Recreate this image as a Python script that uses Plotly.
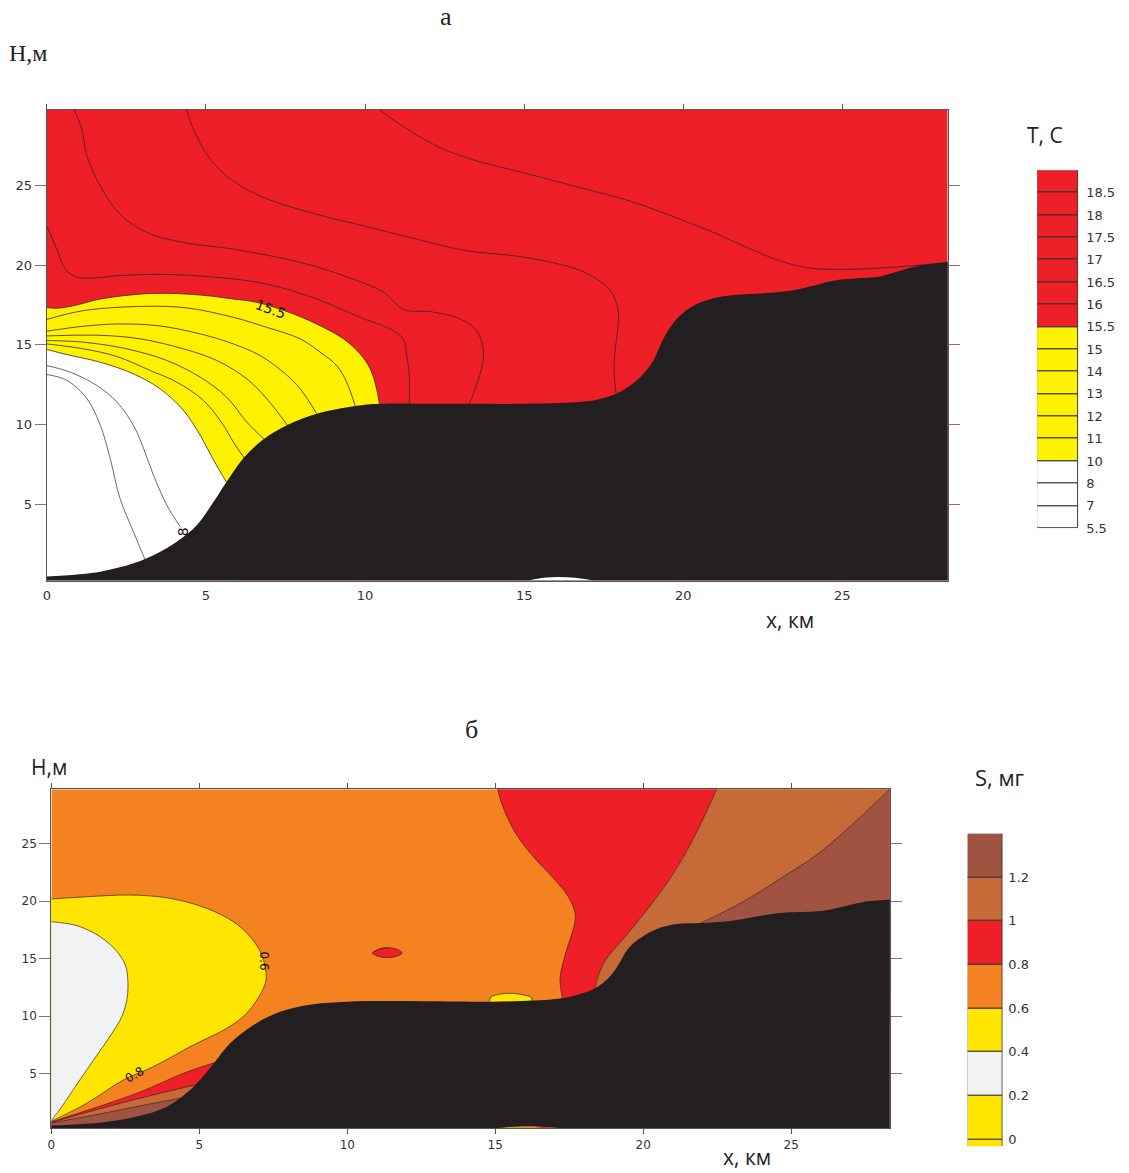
import plotly.graph_objects as go

W, H = 1129, 1173

# ---------- panel a: temperature ----------
A_XMAX, A_YMIN, A_YMAX = 28.31, 0.2, 29.76
A_TERRAIN_X = [0, 1.68, 2.72, 3.46, 4.08, 4.71, 5.24, 5.65, 6.18, 6.81, 7.54, 8.48, 9.69, 10.47, 12.5, 15, 16.65, 17.28, 17.89, 18.33, 18.75, 19.06, 19.32, 19.59, 19.9, 20.32, 20.95, 21.58, 22.52, 23.36, 24.09, 24.72, 25.45, 26.18, 26.92, 27.54, 28.31]
A_TERRAIN_Y = [0.45, 0.76, 1.28, 1.9, 2.64, 3.68, 5.15, 6.4, 7.9, 9.07, 9.95, 10.68, 11.16, 11.3, 11.3, 11.3, 11.39, 11.55, 11.93, 12.45, 13.18, 14.02, 15.17, 16.1, 16.84, 17.46, 17.92, 18.13, 18.24, 18.4, 18.72, 19.03, 19.18, 19.3, 19.72, 20.03, 20.2]
A_NOTCH_X = [15.14, 15.6, 16.1, 16.6, 17.18]
A_NOTCH_Y = [0.2, 0.37, 0.43, 0.37, 0.2]

T155_X = [0, 0.31, 0.84, 1.68, 2.72, 3.56, 4.82, 5.86, 6.6, 7.75, 8.59, 9.32, 9.84, 10.16, 10.35, 10.45]
T155_Y = [17.34, 17.3, 17.46, 17.88, 18.15, 18.24, 18.13, 17.88, 17.67, 16.94, 16.2, 15.38, 14.44, 13.5, 12.35, 11.3]
T10_X = [0, 0.63, 1.68, 2.72, 3.56, 4.29, 4.82, 5.24, 5.65]
T10_Y = [14.71, 14.39, 13.91, 13.18, 12.24, 10.89, 9.32, 7.76, 6.36]
T15_X = [0, 1.15, 3.04, 4.4, 5.86, 6.91, 7.96, 8.59, 9.11, 9.42, 9.69]
T15_Y = [16.6, 17.15, 17.42, 17.32, 16.73, 16.1, 15.38, 14.54, 13.7, 12.66, 11.16]
T14_X = [0, 1.15, 2.2, 3.46, 4.82, 5.86, 6.7, 7.43, 7.96, 8.48]
T14_Y = [15.86, 16.17, 16.31, 16.21, 15.69, 15.06, 14.33, 13.29, 12.24, 10.68]
T13_X = [0, 1.68, 2.93, 4.29, 5.34, 6.28, 6.91, 7.56]
T13_Y = [15.56, 15.6, 15.38, 14.75, 14.02, 12.87, 11.62, 9.95]
T12_X = [0, 1.15, 2.51, 3.77, 4.82, 5.65, 6.28, 6.83]
T12_Y = [15.27, 15.17, 14.75, 14.02, 12.97, 11.72, 10.16, 9.07]
T11_X = [0, 1.15, 2.2, 3.25, 4.08, 4.92, 5.55, 5.86, 6.2]
T11_Y = [15.06, 14.75, 14.27, 13.39, 12.66, 11.51, 9.95, 8.9, 7.9]
T8_X = [0, 0.73, 1.57, 2.2, 2.72, 3.04, 3.35, 3.77, 4.19]
T8_Y = [13.7, 13.29, 12.45, 11.41, 9.95, 8.49, 6.82, 4.94, 3.58]
T7_X = [0, 0.63, 1.26, 1.68, 1.99, 2.3, 2.72, 3.09]
T7_Y = [13.14, 12.77, 11.62, 9.95, 7.86, 5.35, 3.27, 1.49]
T16_X = [0, 0.31, 0.58, 0.89, 1.26, 2.2, 3.56, 5.34, 6.91, 8.48, 9.84, 10.79, 11.2, 11.31, 11.39, 11.39]
T16_Y = [22.47, 21.01, 19.76, 19.3, 19.18, 19.34, 19.43, 19.24, 18.82, 17.88, 16.73, 16.0, 15.38, 14.33, 13.08, 11.3]
T165_X = [0.86, 1.1, 1.26, 1.68, 2.3, 3.14, 4.29, 5.86, 7.96, 9.63, 10.58, 11.23, 12.04, 12.98, 13.51, 13.72, 13.66, 13.46, 13.28]
T165_Y = [29.76, 28.53, 26.86, 24.98, 23.2, 22.06, 21.43, 21.01, 20.18, 19.13, 18.3, 17.21, 17.09, 16.63, 15.9, 14.54, 13.5, 12.24, 11.3]
T17_X = [4.38, 4.61, 5.03, 5.65, 6.7, 8.48, 10.05, 11.62, 13.19, 14.66, 15.71, 16.65, 17.28, 17.75, 17.96, 17.93, 17.84, 17.83, 17.89]
T17_Y = [29.76, 28.53, 26.96, 25.6, 24.35, 23.2, 22.43, 21.64, 20.91, 20.6, 20.24, 19.76, 19.13, 18.3, 17.05, 15.79, 14.33, 13.08, 11.93]
T175_X = [10.45, 11.1, 12.15, 13.19, 15.19, 16.76, 18.33, 19.9, 20.95, 22.0, 23.04, 23.98, 25.14, 26.18, 27.54]
T175_Y = [29.76, 28.84, 27.59, 26.75, 25.7, 24.87, 24.03, 22.89, 22.06, 21.12, 20.28, 19.82, 19.74, 19.82, 20.03]

# ---------- panel b: salinity ----------
B_XMAX, B_YMIN, B_YMAX = 28.33, 0.25, 29.75
B_TERRAIN_X = [0, 1.77, 2.89, 3.79, 4.35, 4.92, 5.53, 6.04, 6.83, 7.73, 8.85, 10, 12.5, 15, 16.29, 17.26, 17.87, 18.37, 18.82, 19.16, 19.5, 19.89, 20.46, 21.13, 21.92, 22.93, 23.83, 24.73, 26.08, 26.98, 27.65, 28.33]
B_TERRAIN_Y = [0.48, 0.77, 1.26, 1.99, 2.86, 4.16, 6.04, 7.64, 9.23, 10.39, 11.03, 11.26, 11.3, 11.26, 11.35, 11.55, 11.93, 12.42, 13.29, 14.45, 15.9, 16.77, 17.58, 18.01, 18.1, 18.28, 18.68, 19.0, 19.17, 19.67, 20.01, 20.16]
B_NOTCH_X = [15.07, 15.5, 16.1, 16.7, 17.2]
B_NOTCH_Y = [0.25, 0.36, 0.42, 0.36, 0.25]
B_NOTCH_YEL_X = [15.3, 15.7, 16.0]
B_NOTCH_YEL_Y = [0.25, 0.36, 0.25]
B_NOTCH_RED_X = [16.3, 16.65, 17.0]
B_NOTCH_RED_Y = [0.25, 0.36, 0.25]
S06_X = [0, 1.2, 2.67, 4.02, 5.25, 6.15, 6.72, 7.11, 7.26, 7.11, 6.6, 5.93, 4.8, 3.45, 2.44, 1.2, 0]
S06_Y = [20.19, 20.39, 20.54, 20.25, 19.38, 18.22, 16.91, 15.32, 13.29, 12.13, 10.25, 8.94, 7.49, 5.61, 4.45, 2.42, 0.85]
S04_X = [0, 0.87, 1.65, 2.22, 2.5, 2.58, 2.56, 2.38, 2.05, 1.43, 0.87, 0.36, 0]
S04_Y = [18.22, 17.87, 16.91, 15.61, 14.45, 13.29, 11.55, 9.96, 8.51, 6.19, 4.1, 2.15, 0.9]
S08W_X = [0, 2.89, 4.47, 5.53]
S08W_Y = [0.8, 3.29, 5.03, 5.96]
S10W_X = [0, 2.33, 3.68, 4.86]
S10W_Y = [0.75, 2.42, 3.29, 4.01]
S12W_X = [0, 1.77, 2.89, 4.35]
S12W_Y = [0.7, 1.55, 2.13, 2.86]
S08_X = [15.08, 15.28, 15.73, 16.29, 16.97, 17.47, 17.7, 17.67, 17.36, 17.19, 17.27]
S08_Y = [29.75, 28.07, 25.75, 23.87, 21.99, 20.39, 18.94, 17.93, 15.32, 13.29, 11.55]
S10_X = [22.48, 21.81, 21.13, 20.34, 19.44, 18.77, 18.49, 18.37]
S10_Y = [29.75, 26.04, 22.86, 19.96, 17.06, 15.03, 13.58, 12.42]
S12_X = [28.33, 26.98, 25.85, 24.73, 23.38, 21.92]
S12_Y = [29.75, 26.48, 24.01, 22.13, 19.96, 18.07]
BLOB_RED_X = [10.85, 11.1, 11.4, 11.7, 11.85, 11.65, 11.35, 11.05]
BLOB_RED_Y = [15.5, 15.85, 15.95, 15.8, 15.5, 15.2, 15.1, 15.2]
BLOB_YEL_X = [14.8, 14.85, 15.2, 15.6, 16.0, 16.24, 16.2]
BLOB_YEL_Y = [11.27, 11.65, 11.93, 11.98, 11.82, 11.6, 11.27]

# ---------- legends and ticks ----------
T_LEVELS = [5.5, 7, 8, 10, 11, 12, 13, 14, 15, 15.5, 16, 16.5, 17, 17.5, 18, 18.5]
T_COLORS = ["#ffffff"] * 3 + ["#fff200"] * 6 + ["#ee1f26"] * 7
S_LEVELS = ["0", "0.2", "0.4", "0.6", "0.8", "1", "1.2"]
S_COLORS = ["#ffe500", "#ffe500", "#f1f2f4", "#ffe500", "#f58220", "#ee1f26", "#c66a38", "#a05340"]
AXIS_TICKS = [0, 5, 10, 15, 20, 25]
Y_TICKS = [5, 10, 15, 20, 25]

RED, YEL, ORANGE, BROWN, DBROWN, GREY, BLACK = "#ee1f26", "#fff200", "#f58220", "#c66a38", "#a05340", "#f1f2f4", "#231f20"
YEL2 = "#ffe500"
LINE = "#3a2526"
SMOOTH = 1.0


def fill(x, y, color, xa, ya, spline=True):
    return go.Scatter(x=x, y=y, mode="lines", fill="toself", fillcolor=color,
                      line=dict(width=0, shape="spline" if spline else "linear", smoothing=SMOOTH, color=color),
                      xaxis=xa, yaxis=ya, hoverinfo="skip", showlegend=False)


def iso(x, y, xa, ya, width=0.8, color=LINE):
    return go.Scatter(x=x, y=y, mode="lines", line=dict(width=width, color=color, shape="spline", smoothing=SMOOTH),
                      xaxis=xa, yaxis=ya, hoverinfo="skip", showlegend=False)


fig = go.Figure()

# panel a
fig.add_trace(fill([0, A_XMAX, A_XMAX, 0], [A_YMIN, A_YMIN, A_YMAX, A_YMAX], RED, "x", "y", False))
fig.add_trace(fill(T155_X + [10.55, 10.5, -1, -1], T155_Y + [9, 3, 3, 17.3], YEL, "x", "y"))
fig.add_trace(fill(T10_X + [6.0, 6.0, -1, -1], T10_Y + [5, 0.3, 0.3, 14.9], "#ffffff", "x", "y"))
for xs, ys in [(T155_X, T155_Y), (T10_X, T10_Y), (T15_X, T15_Y), (T14_X, T14_Y), (T13_X, T13_Y), (T12_X, T12_Y),
               (T11_X, T11_Y), (T16_X, T16_Y), (T165_X, T165_Y), (T17_X, T17_Y), (T175_X, T175_Y)]:
    fig.add_trace(iso(xs, ys, "x", "y"))
for xs, ys in [(T8_X, T8_Y), (T7_X, T7_Y)]:
    fig.add_trace(iso(xs, ys, "x", "y", 0.8, "#444444"))
fig.add_trace(fill(A_TERRAIN_X + [30, 30, -2, -2], A_TERRAIN_Y + [20.5, -5, -5, 0.35], BLACK, "x3", "y"))
fig.add_trace(fill(A_NOTCH_X, A_NOTCH_Y, "#ffffff", "x3", "y"))

# panel b
fig.add_trace(fill([0, B_XMAX, B_XMAX, 0], [B_YMIN, B_YMIN, B_YMAX, B_YMAX], ORANGE, "x2", "y2", False))
fig.add_trace(fill(S06_X + [-1, -1], S06_Y + [0.3, 20.1], YEL2, "x2", "y2"))
fig.add_trace(fill(S04_X + [-1, -1], S04_Y + [0.5, 18.3], GREY, "x2", "y2"))
fig.add_trace(fill(S08W_X + [5.8, 5.8, -1, -1], S08W_Y + [6.1, 0.3, 0.3, 0.7], RED, "x2", "y2"))
fig.add_trace(fill(S10W_X + [5.1, 5.1, -1, -1], S10W_Y + [4.2, 0.3, 0.3, 0.65], BROWN, "x2", "y2"))
fig.add_trace(fill(S12W_X + [4.6, 4.6, -1, -1], S12W_Y + [3.0, 0.3, 0.3, 0.6], DBROWN, "x2", "y2"))
fig.add_trace(fill([15.0] + S08_X + [17.3, 18.4] + S10_X[::-1] + [22.6],
                   [31.0] + S08_Y + [10, 10] + S10_Y[::-1] + [31.0], RED, "x2", "y2"))
fig.add_trace(fill(S10_X + [18.3, 30, 30, 22.6], S10_Y + [11, 11, 31, 31], BROWN, "x2", "y2"))
fig.add_trace(fill(S12_X + [21.5, 30, 30], S12_Y + [17.7, 12, 31], DBROWN, "x2", "y2"))
fig.add_trace(fill(BLOB_RED_X + BLOB_RED_X[:3], BLOB_RED_Y + BLOB_RED_Y[:3], RED, "x2", "y2"))
fig.add_trace(fill(BLOB_YEL_X, BLOB_YEL_Y, YEL2, "x2", "y2"))
for xs, ys in [(S06_X, S06_Y), (S04_X, S04_Y), (S08W_X, S08W_Y), (S10W_X, S10W_Y), (S12W_X, S12W_Y), (S08_X, S08_Y),
               (S10_X, S10_Y), (S12_X, S12_Y), (BLOB_RED_X + BLOB_RED_X[:3], BLOB_RED_Y + BLOB_RED_Y[:3]),
               (BLOB_YEL_X, BLOB_YEL_Y)]:
    fig.add_trace(iso(xs, ys, "x2", "y2", 0.7))
fig.add_trace(fill(B_TERRAIN_X + [30, 30, -2, -2], B_TERRAIN_Y + [20.4, -5, -5, 0.4], BLACK, "x4", "y2"))
fig.add_trace(fill(B_NOTCH_X, B_NOTCH_Y, ORANGE, "x4", "y2"))
fig.add_trace(fill(B_NOTCH_YEL_X, B_NOTCH_YEL_Y, "#c9a21c", "x4", "y2"))
fig.add_trace(fill(B_NOTCH_RED_X, B_NOTCH_RED_Y, RED, "x4", "y2"))

# legends
fig.add_trace(go.Bar(x=[0] * len(T_COLORS), y=[1] * len(T_COLORS), base=list(range(len(T_COLORS))), width=1,
                     marker=dict(color=T_COLORS, line=dict(color="#333333", width=1)),
                     xaxis="x5", yaxis="y5", hoverinfo="skip", showlegend=False))
fig.add_trace(go.Bar(x=[0] * len(S_COLORS), y=[1] * len(S_COLORS), base=list(range(-1, len(S_COLORS) - 1)), width=1,
                     marker=dict(color=S_COLORS, line=dict(color="#333333", width=1)),
                     xaxis="x6", yaxis="y6", hoverinfo="skip", showlegend=False))

# the page's plot area is slightly inset, so requested positions are corrected for it
OX, SX, SY = 3.6, 0.9972, 0.9948


def px(v):
    return (v - OX) / SX / W


def py(v):
    return 1 - v / SY / H


def dx(a, b):
    return [px(a), px(b)]


def dy(top, bottom):
    return [py(bottom), py(top)]


TICKF = dict(family="DejaVu Sans", size=13, color="#333333")
TICKF2 = dict(family="DejaVu Sans", size=12, color="#333333")
AX = "#555555"


def xmain(rng, domain, anchor, font, ticklen, tickcolor):
    return dict(domain=domain, range=rng, anchor=anchor, side="bottom", tickmode="array", tickvals=AXIS_TICKS,
                ticks="outside", ticklen=ticklen, tickcolor=tickcolor, tickfont=font, showgrid=False, zeroline=False,
                showline=True, linecolor=AX, linewidth=1.3, mirror=True)


def xtop(rng, over, anchor):
    return dict(range=rng, overlaying=over, anchor=anchor, side="top", tickmode="array", tickvals=AXIS_TICKS,
                ticks="outside", ticklen=5, tickcolor=AX, showticklabels=False, showgrid=False, zeroline=False)


def ymain(rng, domain, anchor, font):
    return dict(domain=domain, range=rng, anchor=anchor, tickmode="array", tickvals=Y_TICKS, ticks="outside",
                ticklen=11, tickcolor="#777777", tickfont=font, showgrid=False, zeroline=False, showline=True,
                linecolor=AX, linewidth=1.3, mirror="ticks")


def cbar_x(domain, anchor):
    return dict(domain=domain, range=[-0.5, 0.5], anchor=anchor, visible=False)


def ann(text, xp, yp, size, family, color="#222222"):
    return dict(text=text, x=px(xp), y=py(yp), xref="paper", yref="paper", showarrow=False,
                xanchor="center", yanchor="middle", font=dict(family=family, size=size, color=color))


def data_label(text, x, y, xr, yr, angle, size=11):
    return dict(text=text, x=x, y=y, xref=xr, yref=yr, showarrow=False, textangle=angle,
                xanchor="center", yanchor="middle", font=dict(family="DejaVu Sans", size=size, color="#111111"))


SERIF = "Liberation Serif"
SANS = "Open Sans"
fig.update_layout(
    width=W, height=H, autosize=False, margin=dict(l=0, r=0, t=0, b=0),
    paper_bgcolor="white", plot_bgcolor="rgba(0,0,0,0)", barmode="overlay", bargap=0,
    xaxis=xmain([0, A_XMAX], dx(46.5, 948), "y", TICKF, 3, "rgba(0,0,0,0)"),
    yaxis=ymain([A_YMIN, A_YMAX], dy(110, 581.5), "x", TICKF),
    xaxis3=xtop([0, A_XMAX], "x", "y"),
    xaxis2=xmain([0, B_XMAX], dx(51, 890), "y2", TICKF2, 5, "#555555"),
    yaxis2=ymain([B_YMIN, B_YMAX], dy(790.5, 1130), "x2", TICKF2),
    xaxis4=xtop([0, B_XMAX], "x2", "y2"),
    xaxis5=cbar_x(dx(1037.5, 1079), "y5"),
    yaxis5=dict(domain=dy(170.5, 529), range=[0, 16], anchor="x5", side="right", tickmode="array",
                tickvals=list(range(16)), ticktext=[str(v) for v in T_LEVELS], ticks="outside", ticklen=4,
                tickcolor="rgba(0,0,0,0)", tickfont=TICKF, showgrid=False, zeroline=False),
    xaxis6=cbar_x(dx(968, 1003), "y6"),
    yaxis6=dict(domain=dy(835, 1148), range=[-0.16, 7], anchor="x6", side="right", tickmode="array",
                tickvals=list(range(7)), ticktext=S_LEVELS, ticks="outside", ticklen=2,
                tickcolor="rgba(0,0,0,0)", tickfont=TICKF, showgrid=False, zeroline=False),
    annotations=[
        ann("а", 446, 17, 26, SERIF),
        ann("H,м", 28, 53, 24, SERIF),
        ann("T, C", 1045, 135, 21, SANS),
        ann("x, км", 790, 621, 21, SANS),
        ann("б", 471, 731, 26, SERIF),
        ann("H,м", 49, 768, 21, SANS),
        ann("S, мг", 1000, 778, 22, SANS),
        ann("x, км", 747, 1159, 21, SANS),
        data_label("15.5", 7.02, 17.25, "x", "y", 20, 14),
        data_label("8", 4.29, 3.25, "x", "y", -90, 14),
        data_label("0.6", 7.2, 14.8, "x2", "y2", 90, 12),
        data_label("0.8", 2.8, 4.9, "x2", "y2", -30, 12),
    ],
)

fig.write_html("out.html", config={"displayModeBar": False}, post_script="document.body.style.margin='0';")
